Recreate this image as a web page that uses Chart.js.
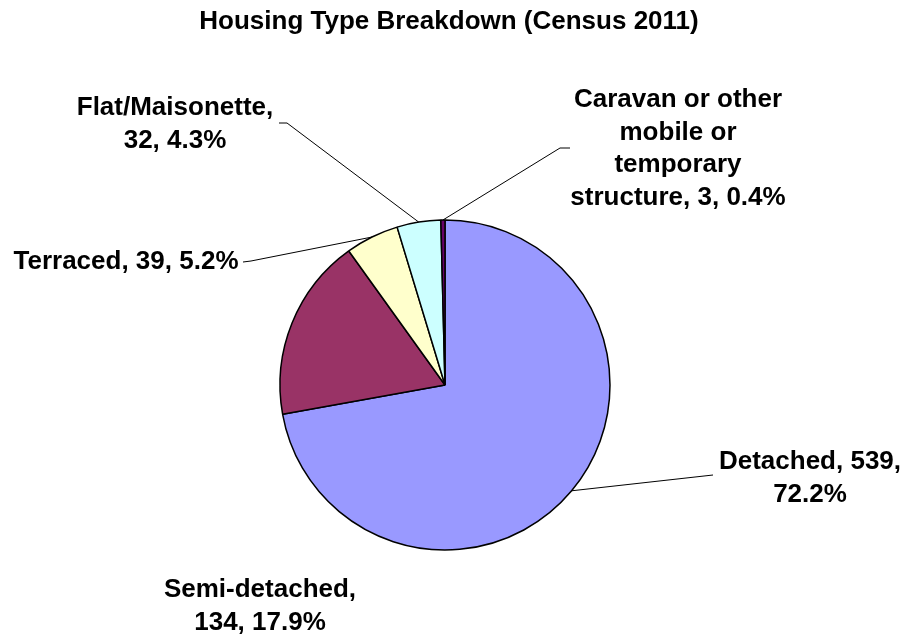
<!DOCTYPE html>
<html>
<head>
<meta charset="utf-8">
<title>Housing Type Breakdown (Census 2011)</title>
<script src="https://cdn.jsdelivr.net/npm/chart.js@4.4.0/dist/chart.umd.min.js"></script>
<style>
    html, body { margin: 0; padding: 0; background: #fff; }
    canvas { display: block; }
</style>
</head>
<body>
<canvas id="pieChart" width="904" height="635"></canvas>
<script>
const categories = ['Detached', 'Semi-detached', 'Terraced', 'Flat/Maisonette', 'Caravan or other mobile or temporary structure'];
const counts = [539, 134, 39, 32, 3];

// label text lines and where they sit (center x, first line y), plus leader elbow
const labelLayout = [
    { lines: ['Detached, 539,', '72.2%'], x: 810, y: 462, leader: [[713, 475]] },
    { lines: ['Semi-detached,', '134, 17.9%'], x: 260, y: 590, leader: null },
    { lines: ['Terraced, 39, 5.2%'], x: 126, y: 262, leader: [[243, 262], [251, 261]] },
    { lines: ['Flat/Maisonette,', '32, 4.3%'], x: 175, y: 108, leader: [[279, 123], [287, 123]] },
    { lines: ['Caravan or other', 'mobile or', 'temporary', 'structure, 3, 0.4%'], x: 678, y: 100, leader: [[570, 148], [560, 148]] }
];

const FONT = 'bold 26px "Liberation Sans", Arial, sans-serif';
const LINE_H = 32.5;

const labelPlugin = {
    id: 'labels',
    afterDraw(chart) {
        const ctx = chart.ctx;
        const meta = chart.getDatasetMeta(0);
        ctx.save();

        // title
        ctx.fillStyle = '#000';
        ctx.font = FONT;
        ctx.textAlign = 'center';
        ctx.textBaseline = 'middle';
        ctx.fillText('Housing Type Breakdown (Census 2011)', 449, 22);

        // leader lines
        ctx.strokeStyle = '#000';
        ctx.lineWidth = 1;
        labelLayout.forEach((lab, i) => {
            if (!lab.leader) return;
            const arc = meta.data[i];
            const p = arc.getProps(['x', 'y', 'startAngle', 'endAngle', 'outerRadius'], true);
            const mid = (p.startAngle + p.endAngle) / 2;
            const ex = p.x + Math.cos(mid) * p.outerRadius;
            const ey = p.y + Math.sin(mid) * p.outerRadius;
            ctx.beginPath();
            ctx.moveTo(lab.leader[0][0], lab.leader[0][1]);
            for (let k = 1; k < lab.leader.length; k++) ctx.lineTo(lab.leader[k][0], lab.leader[k][1]);
            ctx.lineTo(ex, ey);
            ctx.stroke();
        });

        // label texts
        labelLayout.forEach((lab) => {
            lab.lines.forEach((line, j) => {
                ctx.fillText(line, lab.x, lab.y + j * LINE_H);
            });
        });
        ctx.restore();
    }
};

const pieChart = new Chart(document.getElementById('pieChart').getContext('2d'), {
    type: 'pie',
    data: {
        labels: categories,
        datasets: [{
            data: counts,
            backgroundColor: ['#9999FF', '#993366', '#FFFFCC', '#CCFFFF', '#660066'],
            borderColor: '#000',
            borderWidth: 1.5
        }]
    },
    options: {
        responsive: false,
        animation: false,
        radius: 165,
        layout: {
            padding: { top: 218, bottom: 83, left: 100, right: 114 }
        },
        plugins: {
            legend: { display: false },
            tooltip: { enabled: false },
            title: { display: false }
        }
    },
    plugins: [labelPlugin]
});
</script>
</body>
</html>
